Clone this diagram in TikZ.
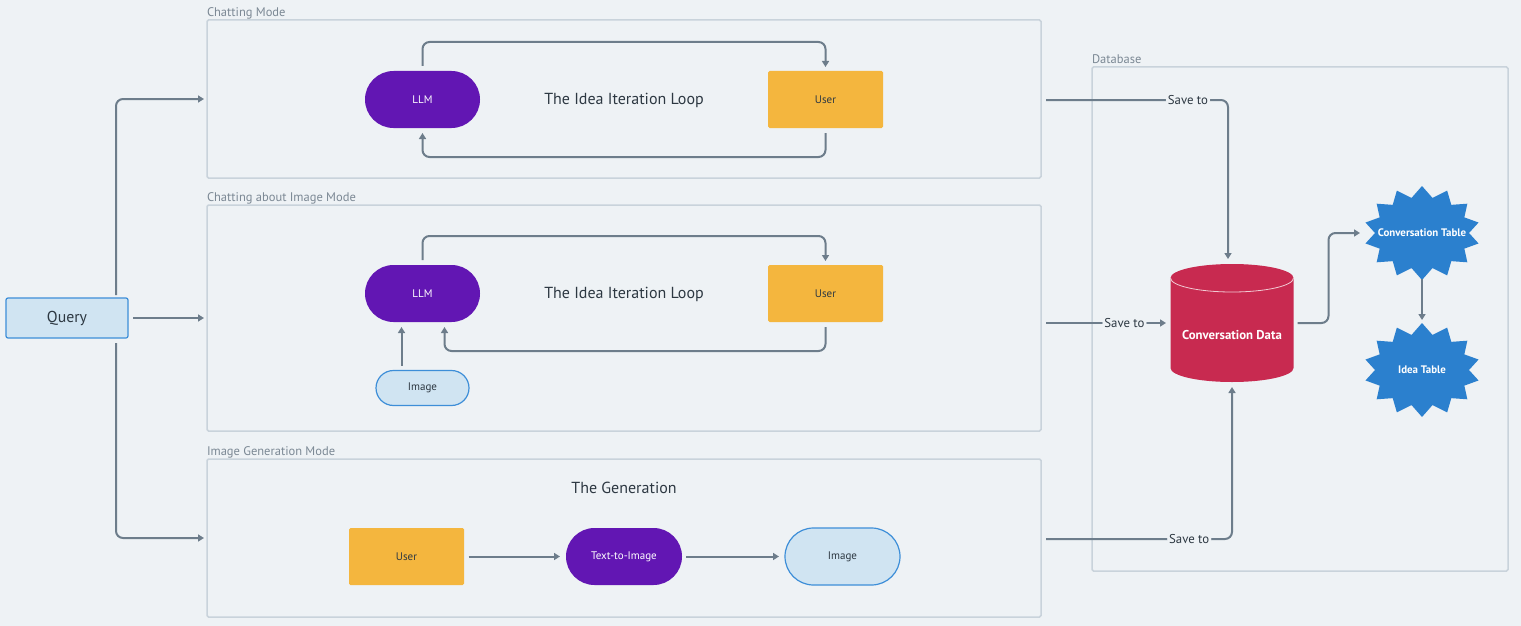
\documentclass[tikz,border=0pt]{standalone}
\usepackage{fontspec}
\setmainfont{PT Sans}
\usetikzlibrary{arrows.meta,calc}
\definecolor{bgc}{HTML}{EEF2F5}
\definecolor{framec}{HTML}{C9D3DB}
\definecolor{lblc}{HTML}{7B8894}
\definecolor{connc}{HTML}{6D7D8B}
\definecolor{darkc}{HTML}{2D3842}
\definecolor{purpc}{HTML}{6216B3}
\definecolor{orangec}{HTML}{F4B63E}
\definecolor{lightbluec}{HTML}{D0E4F2}
\definecolor{bluebordc}{HTML}{3D8ED8}
\definecolor{crimc}{HTML}{C82A50}
\definecolor{starc}{HTML}{2B80CE}
\begin{document}
\begin{tikzpicture}[x=1pt,y=-1pt,
  every node/.style={inner sep=0pt, outer sep=0pt},
  frame/.style={draw=framec, line width=1.5pt, rounded corners=1.5pt},
  framelbl/.style={text=lblc, font=\fontsize{12.5}{14}\selectfont, anchor=base west},
  conn/.style={draw=connc, line width=2pt, rounded corners=7pt, -{Triangle[length=6pt,width=7pt]}},
  pill/.style={fill=purpc, text=white, rounded corners=28.5pt, minimum width=115pt, minimum height=57pt, font=\fontsize{11}{12}\selectfont},
  userbox/.style={fill=orangec, text=darkc, rounded corners=1.5pt, minimum width=115pt, minimum height=57pt, font=\fontsize{11}{12}\selectfont},
  imgpill/.style={fill=lightbluec, draw=bluebordc, line width=1.2pt, text=darkc, font=\fontsize{11}{12}\selectfont},
  title/.style={text=darkc, font=\fontsize{16}{19}\selectfont},
  savelbl/.style={fill=bgc, text=darkc, inner xsep=2pt, inner ysep=2pt, font=\fontsize{12.8}{14}\selectfont},
  whitebold/.style={text=white, font=\fontsize{12.8}{14}\selectfont\bfseries},
  startext/.style={text=white, font=\fontsize{10.9}{12}\selectfont\bfseries},
]
\fill[bgc] (0,0) rectangle (1521,626);
\useasboundingbox (0,0) rectangle (1521,626);

% frames
\node[frame, minimum width=834pt, minimum height=158pt] (chat) at (624,99) {};
\node[framelbl] (chatlbl) at ([yshift=3.5pt]chat.north west) {Chatting Mode};
\node[frame, minimum width=834pt, minimum height=226pt] (chatimg) at (624,318) {};
\node[framelbl] (chatimglbl) at ([yshift=3.5pt]chatimg.north west) {Chatting about Image Mode};
\node[frame, minimum width=834pt, minimum height=158pt] (gen) at (624,538) {};
\node[framelbl] (genlbl) at ([yshift=3.5pt]gen.north west) {Image Generation Mode};
\node[frame, minimum width=416pt, minimum height=504pt] (db) at (1300,319) {};
\node[framelbl] (dblbl) at ([yshift=3.5pt]db.north west) {Database};

% query
\node[fill=lightbluec, draw=bluebordc, line width=1.2pt, rounded corners=2pt, minimum width=122pt, minimum height=40pt, text=darkc, font=\fontsize{15.8}{18}\selectfont] (query) at (67,318) {Query};
\draw[conn, shorten <=3pt, shorten >=3pt] ([xshift=-12pt]query.north east) |- (chat.west);
\draw[conn, shorten <=5pt, shorten >=3pt] (query.east) -- (chatimg.west);
\draw[conn, shorten <=5pt, shorten >=3pt] ([xshift=-12pt]query.south east) |- (gen.west);

% chatting mode
\node[pill] (llm1) at (422.5,99.5) {LLM};
\node[userbox] (user1) at (825.5,99.5) {User};
\node[title] (loop1) at (624,100) {The Idea Iteration Loop};
\draw[conn, shorten <=5pt, shorten >=4pt] (llm1.north) -- ++(0,-29) -| (user1.north);
\draw[conn, shorten <=5pt, shorten >=5pt] (user1.south) -- ++(0,29) -| (llm1.south);

% chatting about image
\node[pill] (llm2) at (422.5,293.5) {LLM};
\node[userbox] (user2) at (825.5,293.5) {User};
\node[title] (loop2) at (624,294) {The Idea Iteration Loop};
\node[imgpill, minimum width=93pt, minimum height=35pt, rounded corners=17.5pt] (img2) at (422.5,388) {Image};
\draw[conn, shorten <=5pt, shorten >=4pt] (llm2.north) -- ++(0,-29) -| (user2.north);
\draw[conn, shorten <=5pt, shorten >=5pt] (user2.south) -- ++(0,29) -| ([xshift=22pt]llm2.south);
\draw[conn, shorten <=5pt, shorten >=5pt] ([xshift=-21pt]img2.north) -- ([xshift=-21pt]llm2.south);

% generation
\node[title] (gentitle) at (624,488) {The Generation};
\node[userbox] (user3) at (406.5,556.5) {User};
\node[pill, minimum width=116pt] (t2i) at (624,556.5) {Text-to-Image};
\node[imgpill, minimum width=115pt, minimum height=57pt, rounded corners=28.5pt] (img3) at (842.5,556.5) {Image};
\draw[conn, shorten <=4.5pt, shorten >=6pt] (user3) -- (t2i);
\draw[conn, shorten <=4pt, shorten >=6pt] (t2i) -- (img3);

% database cylinder
\node[minimum width=123pt, minimum height=118pt] (cd) at (1232,323) {};
\fill[crimc] ($(cd.north west)+(0,14)$) arc[start angle=180, end angle=360, x radius=61.5, y radius=14] -- ($(cd.south east)+(0,-14)$) arc[start angle=0, end angle=180, x radius=61.5, y radius=14] -- cycle;
\draw[white!75!crimc, line width=0.8pt] ($(cd.north west)+(0,14)$) arc[start angle=180, end angle=0, x radius=61.5, y radius=14];
\node[whitebold] (cdtext) at ($(cd.center)+(0,12)$) {Conversation Data};

% save-to connectors
\coordinate (s1) at (1046,100);
\coordinate (s2) at (1046,323);
\coordinate (s3) at (1046,539);
\draw[conn, shorten >=5pt] (s1) -| node[savelbl, pos=0.39] {Save to} ([xshift=-4pt]cd.north);
\draw[conn, shorten >=4.5pt] (s2) -- node[savelbl, pos=0.63] {Save to} (cd.west);
\draw[conn, shorten >=5pt] (s3) -| node[savelbl, pos=0.385] {Save to} (cd.south);

% stars
\coordinate (ctc) at (1422,233);
\fill[starc] ($(ctc)+(-12.857:58 and 47)$) \foreach \k in {0,...,13} { -- ($(ctc)+({\k*25.714}:47 and 36)$) -- ($(ctc)+({\k*25.714+12.857}:58 and 47)$) } -- cycle;
\node[startext, minimum width=124pt, minimum height=91pt] (ct) at (ctc) {Conversation Table};
\coordinate (itc) at (1422,370);
\fill[starc] ($(itc)+(-12.857:58 and 47)$) \foreach \k in {0,...,13} { -- ($(itc)+({\k*25.714}:47 and 36)$) -- ($(itc)+({\k*25.714+12.857}:58 and 47)$) } -- cycle;
\node[startext, minimum width=124pt, minimum height=94pt] (it) at (itc) {Idea Table};

\draw[conn, shorten <=4pt] (cd.east) -- ++(35,0) |- (ct.west);
\draw[conn, shorten >=3pt] (ct.south) -- (it.north);
\end{tikzpicture}
\end{document}
